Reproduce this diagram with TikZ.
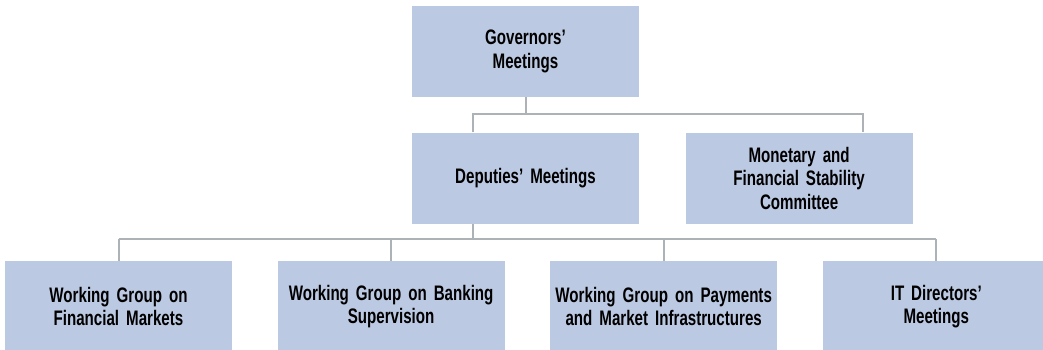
\documentclass[tikz,border=0pt]{standalone}
\usepackage{fontspec}
\setmainfont{Liberation Sans}[FakeStretch=0.72, WordSpace=0.5]
\usepackage{xcolor}
\usepackage{tikz}
\usetikzlibrary{positioning}

\definecolor{boxblue}{RGB}{188,201,226}
\definecolor{linegrey}{RGB}{172,178,182}

\begin{document}
\begin{tikzpicture}[-,auto,node distance=45pt, semithick]
	\tikzstyle{unit}=[fill=boxblue, draw=none, minimum width=227pt, minimum height=91pt,
		inner sep=0pt, align=center, text width=227pt,
		font=\bfseries\fontsize{21}{23.5}\selectfont]
	\tikzstyle{link}=[draw=linegrey, line width=2pt]
	\useasboundingbox (0,0) rectangle (1043pt,350pt);

	% top two levels
	\node[unit]  (gov) at (525.5pt,298.5pt) {Governors'\\Meetings};
	\node[unit]  (dep) [below=35pt of gov] {Deputies' Meetings};
	\node[unit]  (mfsc) [right=46pt of dep] {Monetary and\\Financial Stability\\Committee};

	% working groups
	\node[unit]  (wg1) at (118.5pt,43.5pt) {Working Group on\\Financial Markets};
	\node[unit]  (wg2) [right=of wg1] {Working Group on Banking\\Supervision};
	\node[unit]  (wg3) [right=of wg2] {Working Group on Payments\\and Market Infrastructures};
	\node[unit]  (wg4) [right=of wg3] {IT Directors'\\Meetings};

	\draw[link] (gov.south) -- ++(0,-17pt);
	\draw[link] ([xshift=-53pt]dep.north) -- ++(0,18pt) -| ([xshift=64pt]mfsc.north);
	\draw[link] ([xshift=-53pt]dep.south) -- ++(0,-16pt);
	\draw[link] ([yshift=22pt]wg1.north) -- ([yshift=22pt]wg4.north);
	\foreach \g in {wg1,wg2,wg3,wg4}
		\draw[link] (\g.north) -- ++(0,22pt);
\end{tikzpicture}
\end{document}
